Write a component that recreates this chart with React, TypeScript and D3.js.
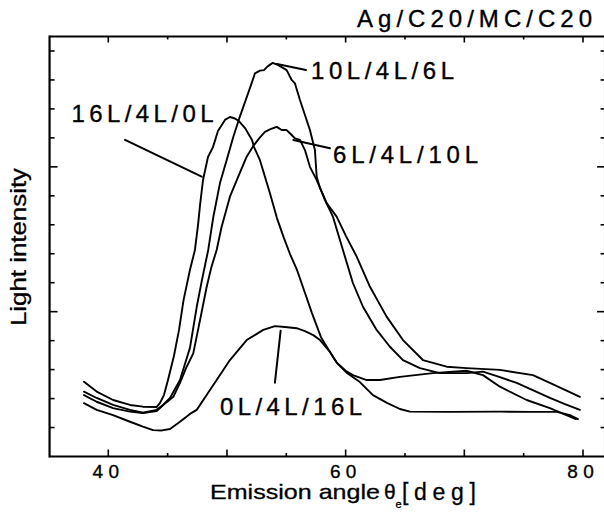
import React from "react";
import * as d3 from "d3";

// Emission angle (deg) / light intensity (arb. units)
const series16L4L0L: [number, number][] = [
  [37.95, 2.58], [39.02, 2.24], [40.4, 1.95], [41.83, 1.78], [42.92, 1.72], [44.08, 1.71],
  [44.36, 1.85], [44.69, 2.12], [45.03, 2.64], [45.53, 3.47], [45.96, 4.37], [46.34, 5.4],
  [46.88, 6.44], [47.3, 7.13], [47.56, 7.99], [47.73, 8.68], [47.98, 9.54], [48.4, 10.34],
  [48.82, 10.68], [49.24, 11.24], [49.83, 11.62], [50.25, 11.72], [50.67, 11.67], [51.01, 11.58],
  [51.52, 11.34], [52.11, 10.93], [52.27, 10.69], [52.78, 10.23], [53.2, 9.66], [53.62, 9.09],
  [54.21, 8.23], [54.8, 7.54], [55.31, 6.99], [55.9, 6.44], [56.4, 5.85], [57.16, 4.95],
  [57.92, 4.12], [58.68, 3.61], [59.27, 3.23], [60.11, 2.88], [61.2, 2.57], [62.3, 2.12],
  [63.48, 1.85], [64.57, 1.64], [65.42, 1.55], [68.79, 1.54], [73.0, 1.55], [75.53, 1.54],
  [77.8, 1.54], [78.9, 1.43], [79.57, 1.29],
];

const series10L4L6L: [number, number][] = [
  [37.95, 2.24], [39.02, 2.02], [40.4, 1.78], [41.83, 1.61], [42.92, 1.51], [44.08, 1.61],
  [44.61, 1.78], [45.2, 2.02], [46.04, 2.64], [46.88, 3.75], [47.45, 5.16], [47.89, 6.09],
  [48.42, 7.13], [48.85, 8.27], [49.41, 9.44], [49.97, 10.23], [50.53, 11.03], [51.04, 11.68],
  [51.37, 12.06], [51.79, 12.55], [52.08, 12.89], [52.36, 13.23], [52.78, 13.32], [53.12, 13.34],
  [53.4, 13.46], [53.85, 13.59], [54.32, 13.51], [55.03, 13.34], [55.45, 13.0], [55.73, 12.88],
  [56.15, 12.31], [56.57, 11.79], [56.99, 11.27], [57.41, 10.58], [57.56, 9.66], [57.84, 9.27],
  [58.26, 8.85], [58.93, 8.28], [59.77, 7.13], [60.61, 5.99], [61.46, 5.17], [62.61, 4.37],
  [63.73, 3.79], [64.83, 3.33], [66.26, 3.05], [67.94, 2.88], [70.19, 2.88], [71.57, 2.93],
  [73.0, 2.74], [74.41, 2.54], [77.21, 2.02], [78.48, 1.81], [79.74, 1.61],
];

const series6L4L10L: [number, number][] = [
  [37.95, 2.12], [39.02, 1.89], [40.4, 1.67], [41.83, 1.55], [42.92, 1.5], [44.08, 1.57],
  [44.63, 1.78], [45.48, 2.06], [46.04, 2.54], [46.55, 3.05], [47.16, 3.56], [47.73, 4.71],
  [48.29, 5.86], [48.69, 6.54], [49.13, 7.13], [49.55, 7.93], [50.25, 8.97], [50.95, 9.66],
  [51.66, 10.35], [52.27, 10.75], [52.78, 11.02], [53.2, 11.21], [53.62, 11.29], [54.19, 11.38],
  [54.61, 11.27], [55.03, 11.27], [55.45, 11.1], [55.73, 10.98], [56.15, 10.93], [56.57, 10.58],
  [56.99, 10.0], [57.56, 9.54], [58.4, 8.75], [59.24, 8.28], [60.03, 7.61], [60.93, 6.9],
  [62.05, 5.86], [63.45, 4.83], [64.83, 4.02], [66.51, 3.33], [68.51, 3.1], [70.19, 3.05],
  [73.0, 2.99], [75.78, 2.81], [77.21, 2.54], [78.48, 2.3], [79.74, 2.06],
];

const series0L4L16L: [number, number][] = [
  [37.95, 1.84], [39.02, 1.61], [40.4, 1.43], [41.83, 1.2], [42.92, 1.03], [43.77, 0.91],
  [44.52, 0.9], [45.2, 0.95], [46.04, 1.2], [46.88, 1.47], [47.45, 1.61], [48.23, 2.09],
  [49.13, 2.64], [50.25, 3.33], [51.66, 4.02], [53.06, 4.37], [54.04, 4.5], [54.89, 4.47],
  [55.87, 4.43], [56.57, 4.33], [57.27, 4.19], [57.84, 4.02], [58.68, 3.61], [59.27, 3.23],
  [60.03, 2.95], [60.61, 2.81], [61.77, 2.64], [62.89, 2.64], [64.57, 2.75], [67.35, 2.88],
  [70.19, 2.96], [71.57, 2.81], [73.0, 2.41], [75.25, 1.95], [77.21, 1.67], [79.4, 1.29],
];

const seriesList = [series16L4L0L, series10L4L6L, series6L4L10L, series0L4L16L];

const xTicks = [40, 45, 50, 55, 60, 65, 70, 75, 80];
const xTickLabels = [40, 60, 80];
const yTicks = [1, 2, 3, 4, 5, 6, 7, 8, 9, 10, 11, 12, 13, 14];
const yMajor = [5, 10];

// annotation leader lines: [x1, y1, x2, y2] in data units
const leaders: [number, number, number, number][] = [
  [54.21, 13.55, 56.66, 13.34],
  [55.59, 10.93, 58.68, 10.64],
  [41.41, 10.93, 47.87, 9.66],
  [54.52, 4.34, 54.04, 2.55],
];

const W = 604;
const H = 517;
const FONT = "'Liberation Sans', Arial, Helvetica, sans-serif";

export default function App() {
  const x = d3.scaleLinear().domain([40, 80]).range([108.3, 583]);
  const y = d3.scaleLinear().domain([0, 14.5]).range([456.5, 36.5]);
  const left = x(35.05);
  const right = x(81.86);
  const top = y(14.5);
  const bottom = y(0);

  const line = d3
    .line<[number, number]>()
    .x((d) => x(d[0]))
    .y((d) => y(d[1]))
    .curve(d3.curveLinear);

  return (
    <svg
      width={W}
      height={H}
      viewBox={`0 0 ${W} ${H}`}
      style={{ position: "absolute", left: 0, top: 0, background: "#fff", display: "block" }}
    >
      <rect x={0} y={0} width={W} height={H} fill="#fff" />
      {/* frame */}
      <g stroke="#000" strokeWidth={2.2} fill="none">
        <line x1={left} y1={bottom} x2={right} y2={bottom} />
        <line x1={left} y1={top} x2={right} y2={top} />
        <line x1={left} y1={top - 1} x2={left} y2={bottom + 1} />
        <line x1={right} y1={top} x2={right} y2={bottom} />
      </g>
      {/* ticks */}
      <g stroke="#000" strokeWidth={1.6}>
        {xTicks.map((t) => {
          const major = t % 10 === 0;
          return (
            <g key={"xt" + t}>
              <line x1={x(t)} x2={x(t)} y1={bottom} y2={bottom - (major ? 7 : 3.5)} />
              <line x1={x(t)} x2={x(t)} y1={top} y2={top + (major ? 6 : 3)} />
            </g>
          );
        })}
        {yTicks.map((t) => {
          const major = yMajor.includes(t);
          return (
            <g key={"yt" + t}>
              <line x1={left} x2={left + (major ? 8 : 5)} y1={y(t)} y2={y(t)} />
              <line x1={right} x2={right - (major ? 8 : 4.5)} y1={y(t)} y2={y(t)} />
            </g>
          );
        })}
      </g>
      {/* curves */}
      <g fill="none" stroke="#000" strokeWidth={1.9} strokeLinejoin="round" strokeLinecap="round">
        {seriesList.map((s, i) => (
          <path key={"s" + i} d={line(s) || ""} />
        ))}
        {leaders.map((l, i) => (
          <line key={"l" + i} x1={x(l[0])} y1={y(l[1])} x2={x(l[2])} y2={y(l[3])} strokeWidth={2} />
        ))}
      </g>
      {/* tick labels */}
      <g fontFamily={FONT} fontSize={19} fill="#000" stroke="#000" strokeWidth={0.35} textAnchor="middle">
        {xTickLabels.map((t) => (
          <text key={"xl" + t} x={x(t) - 2.5} y={477.5} textLength={26.5} lengthAdjust="spacing">
            {t}
          </text>
        ))}
      </g>
      {/* annotations */}
      <g fontFamily={FONT} fontSize={24} fill="#000" stroke="#000" strokeWidth={0.35}>
        <text x={357} y={26.5} textLength={235} lengthAdjust="spacing">Ag/C20/MC/C20</text>
        <text x={71.5} y={121.7} textLength={142} lengthAdjust="spacing">16L/4L/0L</text>
        <text x={311} y={79.3} textLength={143} lengthAdjust="spacing">10L/4L/6L</text>
        <text x={333} y={162.7} textLength={145} lengthAdjust="spacing">6L/4L/10L</text>
        <text x={220} y={415} textLength={142} lengthAdjust="spacing">0L/4L/16L</text>
      </g>
      {/* axis titles */}
      <g fontFamily={FONT} fill="#000" stroke="#000" strokeWidth={0.3}>
        <text x={210} y={499} fontSize={21} textLength={170} lengthAdjust="spacingAndGlyphs">
          Emission angle
        </text>
        <text x={384} y={499} fontSize={21}>θ</text>
        <text x={395.5} y={508} fontSize={11}>e</text>
        <text x={402} y={499.5} fontSize={23} textLength={74} lengthAdjust="spacing">[deg]</text>
        <text
          transform={`translate(26, 247) rotate(-90)`}
          textAnchor="middle"
          fontSize={22}
          textLength={158}
          lengthAdjust="spacingAndGlyphs"
        >
          Light intensity
        </text>
      </g>
    </svg>
  );
}
